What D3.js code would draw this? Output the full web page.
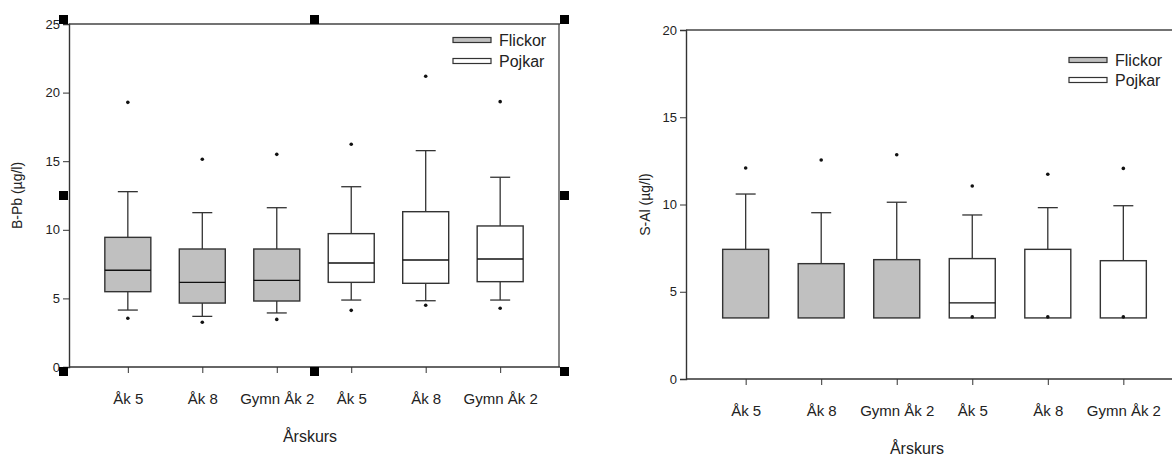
<!DOCTYPE html>
<html>
<head>
<meta charset="utf-8">
<script src="https://cdn.jsdelivr.net/npm/d3@7"></script>
<style>
  body { margin: 0; background: #fff; }
  svg { display: block; font-family: "Liberation Sans", Arial, sans-serif; }
</style>
</head>
<body>
<svg id="chart" width="1172" height="457"></svg>
<script>
const categories = ['Åk 5', 'Åk 8', 'Gymn Åk 2', 'Åk 5', 'Åk 8', 'Gymn Åk 2'];
const groups = ['Flickor', 'Flickor', 'Flickor', 'Pojkar', 'Pojkar', 'Pojkar'];
const legendLabels = ['Flickor', 'Pojkar'];

// B-Pb (µg/l)
const pbLowCap  = [4.15, 3.69, 3.94, 4.88, 4.83, 4.88];
const pbQ1      = [5.49, 4.66, 4.81, 6.17, 6.10, 6.22];
const pbMedian  = [7.05, 6.17, 6.32, 7.58, 7.80, 7.87];
const pbQ3      = [9.45, 8.60, 8.60, 9.72, 11.32, 10.28];
const pbHighCap = [12.78, 11.25, 11.61, 13.14, 15.77, 13.83];
const pbOutLow  = [3.55, 3.26, 3.47, 4.13, 4.50, 4.28];
const pbOutHigh = [19.29, 15.14, 15.50, 16.23, 21.19, 19.34];
const pbTicks   = [0, 5, 10, 15, 20, 25];

// S-Al (µg/l)
const alLowCap  = [null, null, null, null, null, null];
const alQ1      = [3.5, 3.5, 3.5, 3.5, 3.5, 3.5];
const alMedian  = [3.5, 3.5, 3.5, 4.36, 3.5, 3.5];
const alQ3      = [7.43, 6.61, 6.84, 6.90, 7.43, 6.78];
const alHighCap = [10.60, 9.53, 10.13, 9.40, 9.82, 9.93];
const alOutLow  = [null, null, null, 3.56, 3.56, 3.56];
const alOutHigh = [12.09, 12.55, 12.85, 11.06, 11.73, 12.07];
const alTicks   = [0, 5, 10, 15, 20];

const fills = { Flickor: '#c0c0c0', Pojkar: '#ffffff' };
const ink = '#222';
const svg = d3.select('#chart');

function drawPanel(p) {
  const x = d3.scalePoint()
      .domain(d3.range(categories.length))
      .range([p.left, p.right])
      .padding(0.79);

  const y = d3.scaleLinear()
      .domain([0, p.max])
      .range([p.bottom, p.top]);

  const g = svg.append('g');

  // frame (top + right)
  g.append('line')
      .attr('x1', p.left).attr('x2', p.right + 1)
      .attr('y1', p.top).attr('y2', p.top)
      .attr('stroke', '#444').attr('stroke-width', 1.3);
  g.append('line')
      .attr('x1', p.right).attr('x2', p.right)
      .attr('y1', p.top).attr('y2', p.bottom)
      .attr('stroke', '#444').attr('stroke-width', 1.3);

  const yAxis = g.append('g')
      .attr('transform', `translate(${p.left},0)`)
      .call(d3.axisLeft(y).tickValues(p.ticks).tickSize(6).tickPadding(3));
  yAxis.select('.domain').attr('stroke', '#333').attr('stroke-width', 1.4);
  yAxis.selectAll('.tick line').attr('stroke', '#333');
  yAxis.selectAll('.tick text')
      .attr('fill', ink)
      .style('font-size', '13px');

  const xAxis = g.append('g')
      .attr('transform', `translate(0,${p.bottom})`)
      .call(d3.axisBottom(x).tickSize(6).tickFormat(i => categories[i]).tickPadding(20));
  xAxis.select('.domain')
      .attr('d', `M${p.left},0H${p.right + 1}`)
      .attr('stroke', '#333').attr('stroke-width', 1.4);
  xAxis.selectAll('.tick line').attr('stroke', '#333');
  xAxis.selectAll('.tick text')
      .attr('fill', ink)
      .style('font-size', '15px');

  g.append('text')
      .attr('x', p.titleX)
      .attr('y', p.bottom + 75)
      .attr('text-anchor', 'middle')
      .attr('fill', ink)
      .style('font-size', '16px')
      .text('Årskurs');

  g.append('text')
      .attr('transform', `translate(${p.yLabelX},${(p.top + p.bottom) / 2}) rotate(-90)`)
      .attr('text-anchor', 'middle')
      .attr('fill', ink)
      .style('font-size', '14px')
      .text(p.yLabel);

  const boxW = 46;
  const capW = 20;
  const d = p.data;

  categories.forEach((c, i) => {
    const cx = x(i);
    const bg = g.append('g');

    // whiskers
    bg.append('line')
        .attr('x1', cx).attr('x2', cx)
        .attr('y1', y(d.q3[i])).attr('y2', y(d.hiCap[i]))
        .attr('stroke', '#333').attr('stroke-width', 1.3);
    bg.append('line')
        .attr('x1', cx - capW / 2).attr('x2', cx + capW / 2)
        .attr('y1', y(d.hiCap[i])).attr('y2', y(d.hiCap[i]))
        .attr('stroke', '#333').attr('stroke-width', 1.3);
    if (d.loCap[i] != null) {
      bg.append('line')
          .attr('x1', cx).attr('x2', cx)
          .attr('y1', y(d.q1[i])).attr('y2', y(d.loCap[i]))
          .attr('stroke', '#333').attr('stroke-width', 1.3);
      bg.append('line')
          .attr('x1', cx - capW / 2).attr('x2', cx + capW / 2)
          .attr('y1', y(d.loCap[i])).attr('y2', y(d.loCap[i]))
          .attr('stroke', '#333').attr('stroke-width', 1.3);
    }

    bg.append('rect')
        .attr('x', cx - boxW / 2)
        .attr('y', y(d.q3[i]))
        .attr('width', boxW)
        .attr('height', y(d.q1[i]) - y(d.q3[i]))
        .attr('fill', fills[groups[i]])
        .attr('stroke', '#333')
        .attr('stroke-width', 1.4);

    if (d.median[i] !== d.q1[i]) {
      bg.append('line')
          .attr('x1', cx - boxW / 2).attr('x2', cx + boxW / 2)
          .attr('y1', y(d.median[i])).attr('y2', y(d.median[i]))
          .attr('stroke', '#111').attr('stroke-width', 1.3);
    }

    [d.outLow[i], d.outHigh[i]].forEach(v => {
      if (v == null) return;
      bg.append('circle')
          .attr('cx', cx).attr('cy', y(v))
          .attr('r', 1.8)
          .attr('fill', '#111');
    });
  });

  // legend
  const lg = g.append('g').attr('transform', `translate(${p.legendX},${p.legendY})`);
  legendLabels.forEach((name, i) => {
    lg.append('rect')
        .attr('x', 0).attr('y', i * p.legendGap - 2.5)
        .attr('width', 38).attr('height', 5)
        .attr('fill', fills[name])
        .attr('stroke', '#333').attr('stroke-width', 1.2);
    lg.append('text')
        .attr('x', 46).attr('y', i * p.legendGap)
        .attr('dy', '0.35em')
        .attr('fill', ink)
        .style('font-size', '16px')
        .text(name);
  });

  return { x, y };
}

drawPanel({
  left: 69, right: 559, top: 24, bottom: 367,
  max: 25, ticks: pbTicks, yLabel: 'B-Pb (µg/l)', yLabelX: 22, titleX: 310,
  legendX: 453, legendY: 40, legendGap: 21,
  data: { loCap: pbLowCap, q1: pbQ1, median: pbMedian, q3: pbQ3, hiCap: pbHighCap, outLow: pbOutLow, outHigh: pbOutHigh }
});

drawPanel({
  left: 686, right: 1183, top: 30, bottom: 379,
  max: 20, ticks: alTicks, yLabel: 'S-Al (µg/l)', yLabelX: 650, titleX: 917,
  legendX: 1069, legendY: 60, legendGap: 20,
  data: { loCap: alLowCap, q1: alQ1, median: alMedian, q3: alQ3, hiCap: alHighCap, outLow: alOutLow, outHigh: alOutHigh }
});

// selection handles around the left graph
const handleBox = { x0: 59, x1: 569, y0: 15, y1: 376 };
const hs = 9;
const hx = [handleBox.x0, (handleBox.x0 + handleBox.x1 - hs) / 2 + 0.5, handleBox.x1 - hs];
const hy = [handleBox.y0, (handleBox.y0 + handleBox.y1 - hs) / 2, handleBox.y1 - hs];
hx.forEach((vx, i) => hy.forEach((vy, j) => {
  if (i === 1 && j === 1) return;
  svg.append('rect')
      .attr('x', vx).attr('y', vy)
      .attr('width', hs).attr('height', hs)
      .attr('fill', '#000');
}));
</script>
</body>
</html>
